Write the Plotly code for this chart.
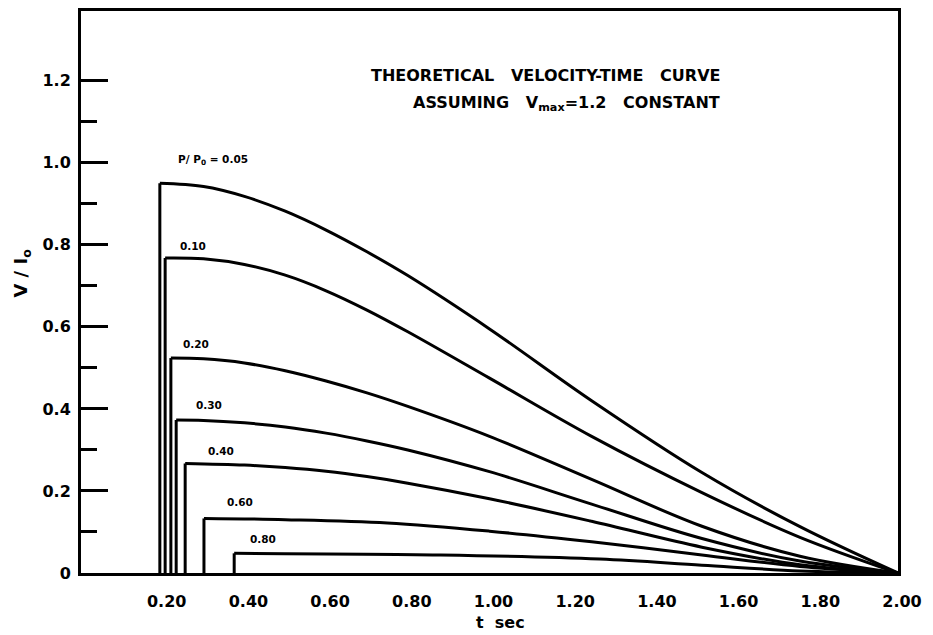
import plotly.graph_objects as go

# P/P0 ratio of each curve (label text drawn beside each curve)
ratios = ["0.05", "0.10", "0.20", "0.30", "0.40", "0.60", "0.80"]

# time (sec) and V/I0 for each curve; first point is the rise instant
t_005 = [0.193, 0.30, 0.40, 0.50, 0.60, 0.70, 0.80, 1.00, 1.25, 1.52, 1.76, 2.00]
v_005 = [0.950, 0.942, 0.918, 0.882, 0.836, 0.783, 0.725, 0.595, 0.420, 0.245, 0.113, 0.0]

t_010 = [0.206, 0.30, 0.40, 0.50, 0.60, 0.70, 0.80, 1.00, 1.25, 1.52, 1.76, 2.00]
v_010 = [0.768, 0.766, 0.752, 0.726, 0.688, 0.641, 0.588, 0.475, 0.333, 0.196, 0.087, 0.0]

t_020 = [0.220, 0.30, 0.40, 0.50, 0.60, 0.70, 0.80, 1.00, 1.25, 1.52, 1.76, 2.00]
v_020 = [0.524, 0.522, 0.512, 0.493, 0.468, 0.439, 0.406, 0.333, 0.228, 0.114, 0.041, 0.0]

t_030 = [0.233, 0.30, 0.40, 0.50, 0.60, 0.70, 0.80, 1.00, 1.25, 1.52, 1.76, 2.00]
v_030 = [0.373, 0.372, 0.366, 0.356, 0.341, 0.322, 0.300, 0.247, 0.168, 0.084, 0.029, 0.0]

t_040 = [0.255, 0.40, 0.50, 0.60, 0.70, 0.80, 1.00, 1.25, 1.52, 1.76, 2.00]
v_040 = [0.267, 0.263, 0.257, 0.248, 0.235, 0.219, 0.181, 0.126, 0.063, 0.020, 0.0]

t_060 = [0.301, 0.50, 0.75, 1.00, 1.25, 1.52, 1.76, 2.00]
v_060 = [0.133, 0.130, 0.122, 0.102, 0.076, 0.044, 0.016, 0.0]

t_080 = [0.375, 0.88, 1.27, 1.52, 1.76, 2.00]
v_080 = [0.048, 0.044, 0.034, 0.019, 0.005, 0.0]

curves_t = [t_005, t_010, t_020, t_030, t_040, t_060, t_080]
curves_v = [v_005, v_010, v_020, v_030, v_040, v_060, v_080]

# axis ticks
x_ticks = [0.2, 0.4, 0.6, 0.8, 1.0, 1.2, 1.4, 1.6, 1.8, 2.0]
x_ticktext = ["0.20", "0.40", "0.60", "0.80", "1.00", "1.20", "1.40", "1.60", "1.80", "2.00"]
y_ticks = [0.0, 0.2, 0.4, 0.6, 0.8, 1.0, 1.2]
y_ticktext = ["0", "0.2", "0.4", "0.6", "0.8", "1.0", "1.2"]
y_minor = [0.1, 0.3, 0.5, 0.7, 0.9, 1.1]

FONT = "DejaVu Sans"
INK = "black"
SP = "\u00a0\u00a0\u00a0"  # wide word gap in the heading

fig = go.Figure()

for tt, vv in zip(curves_t, curves_v):
    # sharp rise at the start instant
    fig.add_trace(go.Scatter(
        x=[tt[0], tt[0]], y=[0, vv[0]], mode="lines",
        line=dict(color=INK, width=3), showlegend=False, hoverinfo="skip"))
    # smooth decay back to zero
    fig.add_trace(go.Scatter(
        x=tt, y=vv, mode="lines",
        line=dict(color=INK, width=3, shape="spline", smoothing=1.0),
        showlegend=False, hoverinfo="skip", cliponaxis=False))

# plot area in pixels: left, right, top, bottom
L, R, T, B = 81, 898, 8, 573


def px_x(x):
    return (x - L) / (R - L)


def px_y(y):
    return (B - y) / (B - T)


annotations = []

# curve labels (pixel centres)
label_pos = [(213, 158), (193, 244), (196, 343), (209, 404), (221, 450), (240, 502), (263, 539)]
for i, (r, (lx, ly)) in enumerate(zip(ratios, label_pos)):
    text = f"P/ P<sub>0</sub> = {r}" if i == 0 else r
    annotations.append(dict(
        x=px_x(lx), y=px_y(ly), xref="paper", yref="paper", text=text,
        showarrow=False, xanchor="center", yanchor="middle",
        font=dict(family=FONT, size=10.5, color=INK, weight="bold")))

# heading
annotations.append(dict(
    x=px_x(722), y=px_y(73), xref="paper", yref="paper",
    text=f"THEORETICAL{SP}VELOCITY-TIME{SP}CURVE", showarrow=False,
    xanchor="right", yanchor="middle",
    font=dict(family=FONT, size=16, color=INK, weight="bold")))
annotations.append(dict(
    x=px_x(722), y=px_y(101), xref="paper", yref="paper",
    text=f"ASSUMING{SP}V<sub>max</sub>=1.2{SP}CONSTANT", showarrow=False,
    xanchor="right", yanchor="middle",
    font=dict(family=FONT, size=16, color=INK, weight="bold")))

# axis titles
annotations.append(dict(
    x=px_x(22), y=px_y(272), xref="paper", yref="paper",
    text="V / I<sub>o</sub>", showarrow=False, textangle=-90,
    xanchor="center", yanchor="middle",
    font=dict(family=FONT, size=18, color=INK, weight="bold")))
annotations.append(dict(
    x=px_x(500), y=px_y(623), xref="paper", yref="paper",
    text="t  sec", showarrow=False, xanchor="center", yanchor="middle",
    font=dict(family=FONT, size=16, color=INK, weight="bold")))

fig.update_layout(
    width=933, height=635, autosize=False,
    margin=dict(l=L, r=933 - R, t=T, b=635 - B),
    paper_bgcolor="white", plot_bgcolor="white",
    annotations=annotations,
    xaxis=dict(
        range=[0, 2.0], showgrid=False, zeroline=False,
        showline=True, linewidth=3, linecolor=INK, mirror=True,
        tickvals=x_ticks, ticktext=x_ticktext, ticks="",
        ticklabelstandoff=12, ticklabelshift=4,
        tickfont=dict(family=FONT, size=16, color=INK, weight="bold")),
    yaxis=dict(
        range=[0, 1.37], showgrid=False, zeroline=False,
        showline=True, linewidth=3, linecolor=INK, mirror=True,
        tickvals=y_ticks, ticktext=y_ticktext,
        ticks="inside", ticklen=27, tickwidth=2.5, tickcolor=INK,
        minor=dict(tickvals=y_minor, ticks="inside", ticklen=16,
                   tickwidth=2.5, tickcolor=INK, showgrid=False),
        ticklabelstandoff=4,
        tickfont=dict(family=FONT, size=16, color=INK, weight="bold")),
)

fig.write_html("out.html")
